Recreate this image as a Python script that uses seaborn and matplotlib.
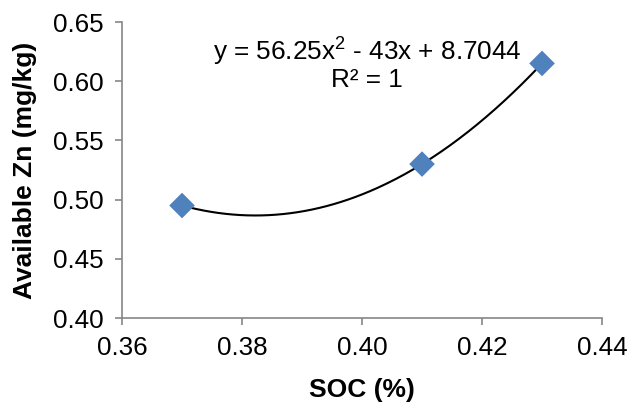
import numpy as np
import pandas as pd
import matplotlib
matplotlib.use("Agg")
import matplotlib.pyplot as plt
import seaborn as sns

soc = [0.37, 0.41, 0.43]
zn = [0.495, 0.53, 0.615]
x_ticks = [0.36, 0.38, 0.40, 0.42, 0.44]
y_ticks = [0.40, 0.45, 0.50, 0.55, 0.60, 0.65]

df = pd.DataFrame({"SOC": soc, "Zn": zn})

sns.set_style("white")
plt.rcParams['font.family'] = ['Liberation Sans', 'DejaVu Sans']
plt.rcParams['mathtext.fontset'] = 'custom'
plt.rcParams['mathtext.rm'] = 'Liberation Sans'
plt.rcParams['text.color'] = 'black'
plt.rcParams['axes.labelcolor'] = 'black'

fig = plt.figure(figsize=(6.3, 4.03), dpi=100)
ax = fig.add_axes([0.1937, 0.2109, 0.7619, 0.7345])

# polynomial (order 2) trendline, like Excel
coef = np.polyfit(df["SOC"], df["Zn"], 2)
xs = np.linspace(df["SOC"].min(), df["SOC"].max(), 200)
ax.plot(xs, np.polyval(coef, xs), color="black", lw=1.5, zorder=2)

sns.scatterplot(data=df, x="SOC", y="Zn", marker="D", s=170, color="#4F81BD",
                edgecolor="none", ax=ax, zorder=3)

ax.text(0.4008, 0.6247, "y = 56.25x$\\mathrm{^2}$ - 43x + 8.7044", ha="center", va="center", fontsize=18.8)
ax.text(0.4008, 0.601, "R² = 1", ha="center", va="center", fontsize=18.8)

ax.set_xlim(0.36, 0.44)
ax.set_ylim(0.40, 0.65)
ax.set_xticks(x_ticks)
ax.set_yticks(y_ticks)
ax.set_xticklabels([f"{v:.2f}" for v in x_ticks], fontsize=18.7)
ax.set_yticklabels([f"{v:.2f}" for v in y_ticks], fontsize=18.7)
ax.set_xlabel("SOC (%)", fontsize=19, fontweight="bold", labelpad=13)
ax.set_ylabel("Available Zn (mg/kg)", fontsize=19, fontweight="bold", labelpad=12)

sns.despine(ax=ax)
for side in ["left", "bottom"]:
    ax.spines[side].set_color("#868686")
    ax.spines[side].set_linewidth(1.2)
ax.tick_params(axis="both", direction="out", length=5, width=1.2, color="#868686",
               labelcolor="black", bottom=True, left=True, pad=8)

fig.savefig("out.png", dpi=100)
